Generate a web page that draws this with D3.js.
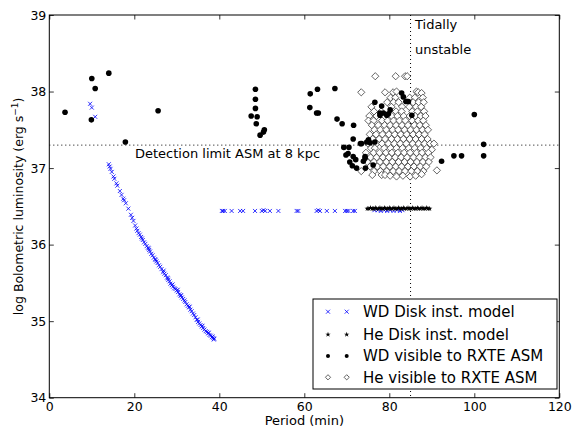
<!DOCTYPE html>
<html><head><meta charset="utf-8">
<script src="https://cdn.jsdelivr.net/npm/d3@7"></script>
<style>body{margin:0;background:#fff}svg{display:block;font-family:"DejaVu Sans",sans-serif}</style>
</head><body><svg id="c" width="572" height="427"></svg>
<script>
// ---- data ----
const xTicks = [0,20,40,60,80,100,120];
const yTicks = [34,35,36,37,38,39];
const detectionLimit = 37.3;
const tidalPeriod = 85;

const wdDiskModel = [
 [9.6,37.84],[10.0,37.79],[10.8,37.67],
 [14.0,37.05],[14.2,37.02],[14.4,36.99],[14.7,36.95],[15.1,36.89],[15.3,36.86],[15.8,36.80],[16.0,36.77],[16.6,36.70],[17.0,36.65],[17.4,36.60],[17.6,36.58],[18.0,36.54],[18.6,36.47],[19.2,36.39],[19.5,36.35],[19.8,36.31],[20.2,36.25],[20.5,36.21],[20.7,36.18],[21.0,36.15],[21.3,36.13],[21.6,36.10],[21.8,36.08],[22.0,36.06],[22.3,36.03],[22.6,36.01],[22.9,35.98],[23.2,35.96],[23.4,35.95],[23.5,35.93],[23.7,35.91],[24.0,35.88],[24.3,35.86],[24.6,35.83],[24.9,35.81],[25.0,35.80],[25.2,35.78],[25.5,35.76],[25.8,35.73],[26.1,35.71],[26.4,35.68],[26.8,35.64],[26.9,35.66],[27.1,35.62],[27.4,35.60],[27.7,35.57],[27.9,35.56],[28.0,35.54],[28.3,35.52],[28.5,35.49],[28.8,35.47],[29.0,35.48],[29.1,35.45],[29.4,35.43],[29.7,35.42],[30.0,35.40],[30.2,35.41],[30.3,35.38],[30.6,35.35],[30.9,35.33],[31.0,35.34],[31.2,35.31],[31.5,35.29],[31.8,35.27],[32.0,35.25],[32.3,35.22],[32.6,35.20],[32.9,35.18],[33.0,35.19],[33.2,35.15],[33.5,35.13],[33.8,35.10],[34.1,35.08],[34.4,35.05],[34.7,35.02],[34.9,35.02],[35.0,34.99],[35.3,34.97],[35.6,34.95],[35.9,34.93],[36.0,34.94],[36.2,34.91],[36.5,34.89],[36.8,34.87],[37.1,34.86],[37.4,34.84],[37.5,34.85],[37.7,34.82],[38.0,34.81],[38.3,34.79],[38.4,34.80],[38.6,34.78],[38.7,34.76],[38.8,34.77],
 [40.6,36.44],[40.9,36.44],[41.3,36.44],[42.9,36.44],[44.9,36.44],[45.6,36.44],[48.4,36.44],[50.0,36.44],[50.4,36.45],[50.8,36.44],[51.9,36.44],[53.9,36.44],[58.2,36.44],[58.6,36.44],[62.9,36.44],[63.3,36.45],[63.7,36.44],[65.3,36.44],[67.2,36.44],[69.6,36.44],[70.0,36.44],[70.4,36.44],[71.5,36.44],[71.9,36.44],
 [76.5,36.45],[77.3,36.45],[78.0,36.44],[78.8,36.45],[79.5,36.44],[80.2,36.45],[81.0,36.44],[81.8,36.45],[82.5,36.44],[83.1,36.45]
];

const heDiskModel = [
 [74.8,36.47],[75.2,36.47],[75.6,36.48],[76.0,36.47],[76.3,36.47],[76.7,36.48],[77.0,36.47],[77.4,36.47],[77.8,36.48],[78.1,36.47],[78.5,36.47],[78.9,36.48],[79.2,36.47],[79.6,36.47],[80.0,36.48],[80.3,36.47],[80.7,36.47],[81.1,36.48],[81.4,36.47],[81.8,36.47],[82.2,36.48],[82.5,36.47],[82.9,36.47],[83.3,36.48],[83.6,36.47],[84.0,36.47],[84.4,36.48],[84.7,36.47],[85.1,36.47],[85.5,36.48],[85.8,36.47],[86.2,36.47],[86.6,36.48],[86.9,36.47],[87.3,36.47],[87.7,36.48],[88.0,36.47],[88.4,36.47],[88.8,36.48],[89.1,36.47],[89.5,36.47]
];

const wdVisible = [
 [3.7,37.73],[9.9,37.63],[10.0,38.17],[10.8,38.04],[14.0,38.24],[17.9,37.34],[25.6,37.75],
 [47.5,37.68],[48.5,38.03],[48.5,37.90],[48.5,37.78],[48.9,37.67],[48.7,37.58],[50.6,37.50],[50.4,37.47],[49.6,37.43],
 [61.4,37.97],[63.1,38.03],[67.2,38.04],[61.3,37.79],[62.9,37.72],[63.3,37.72],[67.7,37.64],[68.9,37.58],[71.6,37.56],
 [71.5,37.38],[73.2,37.32],[69.3,37.27],[70.5,37.27],[70.3,37.19],[69.8,37.17],[71.5,37.15],[70.7,37.08],[71.3,37.03],[72.1,37.11],[74.4,37.00],[72.3,37.00],
 [73.5,37.32],[74.7,37.34],[75.1,37.37],[75.5,37.33],[76.6,37.34],[73.9,37.09],[74.3,37.15],[74.3,37.13],[76.2,37.04],
 [76.6,37.86],[78.2,37.81],[77.8,37.72],[77.8,37.69],[78.6,37.72],[79.4,37.69],[79.8,37.71],[80.2,37.76],[82.9,37.98],[83.3,37.93],[83.9,37.87],[84.5,37.87],[85.3,37.69],
 [92.3,37.09],[95.2,37.16],[97.0,37.16],[100.0,37.70],[102.2,37.31],[102.2,37.16]
];

const heVisible = [
 [76.7,38.20],[81.5,38.20],[83.7,38.20],[84.2,38.20],
 [73.4,37.99],[79.0,37.99],[80.9,37.99],[81.7,38.00],[86.4,38.00],[86.8,37.99],[87.6,37.98],
 [80.3,37.92],[81.4,37.92],[84.8,37.92],[86.0,37.92],[87.9,37.92],
 [79.5,37.86],[81.0,37.86],[82.2,37.86],[85.6,37.86],[86.9,37.86],[88.1,37.86],
 [75.8,37.80],[80.5,37.80],[83.0,37.80],[84.7,37.80],[86.3,37.80],[87.5,37.80],
 [76.4,37.74],[78.1,37.74],[81.6,37.74],[82.9,37.74],[85.4,37.74],[86.6,37.74],[88.2,37.74],
 [75.3,37.68],[77.0,37.68],[80.6,37.68],[81.9,37.68],[83.4,37.68],[84.8,37.68],[86.1,37.68],[87.4,37.68],[88.5,37.68],
 [75.1,37.62],[76.3,37.62],[78.3,37.62],[79.6,37.62],[81.0,37.62],[82.4,37.62],[83.8,37.62],[85.4,37.62],[86.8,37.62],[88.0,37.62],
 [75.9,37.56],[77.4,37.56],[78.9,37.56],[80.2,37.56],[81.6,37.56],[83.0,37.56],[84.4,37.56],[85.9,37.56],[87.2,37.56],[88.6,37.56],
 [76.5,37.50],[77.9,37.50],[79.3,37.50],[80.8,37.50],[82.1,37.50],[83.6,37.50],[85.0,37.50],[86.4,37.50],[87.8,37.50],[89.1,37.50],
 [75.4,37.44],[76.9,37.44],[78.4,37.44],[79.9,37.44],[81.3,37.44],[82.7,37.44],[84.1,37.44],[85.6,37.44],[87.0,37.44],[88.3,37.44],
 [76.1,37.38],[77.6,37.38],[79.0,37.38],[80.5,37.38],[81.9,37.38],[83.3,37.38],[84.8,37.38],[86.2,37.38],[87.6,37.38],[89.0,37.38],
 [75.0,37.32],[77.0,37.32],[78.3,37.32],[79.8,37.32],[81.2,37.32],[82.6,37.32],[84.0,37.32],[85.5,37.32],[86.9,37.32],[88.3,37.32],[89.6,37.32],[90.5,37.32],
 [75.7,37.26],[76.6,37.26],[78.8,37.26],[80.3,37.26],[81.7,37.26],[83.1,37.26],[84.6,37.26],[86.0,37.26],[87.4,37.26],[88.8,37.26],[90.0,37.24],
 [74.5,37.20],[76.3,37.20],[77.7,37.20],[79.2,37.20],[80.6,37.20],[82.0,37.20],[83.5,37.20],[84.9,37.20],[86.4,37.20],[87.7,37.20],[89.2,37.20],
 [75.6,37.14],[77.0,37.14],[78.5,37.14],[79.9,37.14],[81.4,37.14],[82.8,37.14],[84.2,37.14],[85.7,37.14],[87.1,37.14],[88.5,37.14],[89.7,37.14],
 [74.8,37.08],[76.4,37.08],[77.8,37.08],[79.3,37.08],[80.7,37.08],[82.2,37.08],[83.6,37.08],[85.0,37.08],[86.5,37.08],[87.9,37.08],[89.3,37.08],
 [75.5,37.02],[77.2,37.02],[78.6,37.02],[80.1,37.02],[81.5,37.02],[82.9,37.02],[84.4,37.02],[85.8,37.02],[87.3,37.02],[88.7,37.02],
 [73.4,36.96],[76.4,36.96],[77.9,36.96],[79.4,36.96],[80.9,36.96],[82.3,36.96],[83.7,36.96],[85.2,36.96],[86.6,36.96],[88.0,36.96],[91.2,36.97],
 [76.0,36.91],[78.2,36.91],[79.0,36.91],[80.2,36.90],[81.7,36.89],[83.2,36.90],[84.9,36.89],[86.2,36.90],[87.6,36.92]
];

const legendLabels = ["WD Disk inst. model","He Disk inst. model","WD visible to RXTE ASM","He visible to RXTE ASM"];

// ---- drawing ----
const svg = d3.select("#c");
const L = 49.3, R = 559.3, T = 15, B = 397.7;
const x = d3.scaleLinear().domain([0,120]).range([L,R]);
const y = d3.scaleLinear().domain([34,39]).range([B,T]);

svg.append("defs").append("clipPath").attr("id","clip")
  .append("rect").attr("x",L).attr("y",T).attr("width",R-L).attr("height",B-T);

const plot = svg.append("g").attr("clip-path","url(#clip)");

// reference lines
plot.append("line").attr("x1",L).attr("x2",R).attr("y1",y(detectionLimit)).attr("y2",y(detectionLimit))
  .attr("stroke","#000").attr("stroke-width",1).attr("stroke-dasharray","1,3");
plot.append("line").attr("x1",x(tidalPeriod)).attr("x2",x(tidalPeriod)).attr("y1",T).attr("y2",B)
  .attr("stroke","#000").attr("stroke-width",1).attr("stroke-dasharray","1,3");

const crossPath = s => `M${-s},${-s}L${s},${s}M${-s},${s}L${s},${-s}`;
const starSym = d3.symbol().type(d3.symbolStar).size(9)();
const dS = 3.6;
const diamondPath = `M0,${-dS}L${dS},0L0,${dS}L${-dS},0Z`;

function drawCross(g, data){
  g.selectAll(null).data(data).join("path")
   .attr("transform",d=>`translate(${x(d[0])},${y(d[1])})`)
   .attr("d",crossPath(2)).attr("stroke","#0000ff").attr("stroke-width",0.8).attr("fill","none");
}
function drawStar(g, data){
  g.selectAll(null).data(data).join("path")
   .attr("transform",d=>`translate(${x(d[0])},${y(d[1])})`)
   .attr("d",starSym).attr("fill","#000");
}
function drawDiamond(g, data){
  g.selectAll(null).data(data).join("path")
   .attr("transform",d=>`translate(${x(d[0])},${y(d[1])})`)
   .attr("d",diamondPath).attr("fill","#fff").attr("stroke","#222").attr("stroke-width",0.7);
}
function drawDot(g, data){
  g.selectAll(null).data(data).join("circle")
   .attr("cx",d=>x(d[0])).attr("cy",d=>y(d[1])).attr("r",2.8).attr("fill","#000");
}

drawCross(plot.append("g"), wdDiskModel);
drawStar(plot.append("g"), heDiskModel);
drawDiamond(plot.append("g"), heVisible);
drawDot(plot.append("g"), wdVisible);

// axes with inward ticks
const tickLen = 4.5;
const fmt = d3.format("d");
const axB = svg.append("g").attr("transform",`translate(0,${B})`)
  .call(d3.axisBottom(x).tickValues(xTicks).tickFormat(fmt).tickSizeInner(-tickLen).tickSizeOuter(0).tickPadding(4));
const axT = svg.append("g").attr("transform",`translate(0,${T})`)
  .call(d3.axisTop(x).tickValues(xTicks).tickSizeInner(-tickLen).tickSizeOuter(0).tickFormat(""));
const axL = svg.append("g").attr("transform",`translate(${L},0)`)
  .call(d3.axisLeft(y).tickValues(yTicks).tickFormat(fmt).tickSizeInner(-tickLen).tickSizeOuter(0).tickPadding(3));
const axR = svg.append("g").attr("transform",`translate(${R},0)`)
  .call(d3.axisRight(y).tickValues(yTicks).tickSizeInner(-tickLen).tickSizeOuter(0).tickFormat(""));
[axB,axT,axL,axR].forEach(a=>{
  a.select(".domain").remove();
  a.selectAll("line").attr("stroke","#000").attr("stroke-width",0.8);
  a.selectAll("text").attr("fill","#000").style("font-size","12.5px").style("font-family","DejaVu Sans");
});
svg.append("rect").attr("x",L).attr("y",T).attr("width",R-L).attr("height",B-T)
  .attr("fill","none").attr("stroke","#000").attr("stroke-width",1);

// labels
svg.append("text").attr("x",(L+R)/2).attr("y",425).attr("text-anchor","middle")
  .style("font-size","13px").text("Period (min)");
const yl = svg.append("text").attr("transform",`translate(23,${(T+B)/2}) rotate(-90)`)
  .attr("text-anchor","middle").style("font-size","12.5px");
yl.append("tspan").text("log Bolometric luminosity (erg s");
yl.append("tspan").attr("dy",-5).style("font-size","9px").text("\u22121");
yl.append("tspan").attr("dy",5).text(")");

svg.append("text").attr("x",135).attr("y",158).style("font-size","13px").text("Detection limit ASM at 8 kpc");
svg.append("text").attr("x",415).attr("y",29).style("font-size","13px").text("Tidally");
svg.append("text").attr("x",415).attr("y",54).style("font-size","13px").text("unstable");

// legend
const lg = svg.append("g");
lg.append("rect").attr("x",313).attr("y",299).attr("width",244).attr("height",90)
  .attr("fill","#fff").attr("stroke","#000").attr("stroke-width",1);
const rowsY = [311.7,334.5,356,377.3];
const mk = [328,346.7];
legendLabels.forEach((lab,i)=>{
  const g = lg.append("g");
  const pts = mk.map(px=>[x.invert(px), y.invert(rowsY[i])]);
  if(i===0) drawCross(g, pts);
  if(i===1) drawStar(g, pts);
  if(i===2) g.selectAll(null).data(pts).join("circle").attr("cx",d=>x(d[0])).attr("cy",d=>y(d[1])).attr("r",2).attr("fill","#000");
  if(i===3) g.selectAll(null).data(pts).join("path")
     .attr("transform",d=>`translate(${x(d[0])},${y(d[1])})`)
     .attr("d",`M0,-2.6L2.6,0L0,2.6L-2.6,0Z`).attr("fill","#fff").attr("stroke","#222").attr("stroke-width",0.7);
  g.append("text").attr("x",363).attr("y",rowsY[i]+5.3).style("font-size","15px").text(lab);
});
</script></body></html>
